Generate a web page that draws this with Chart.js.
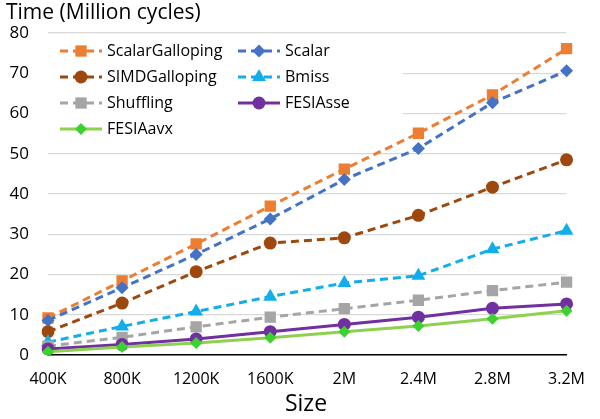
<!DOCTYPE html>
<html>
<head>
<meta charset="utf-8">
<script src="https://cdn.jsdelivr.net/npm/chart.js@4/dist/chart.umd.min.js"></script>
<style>
  html, body { margin: 0; padding: 0; background: #fff; }
  #wrap { width: 600px; height: 419px; }
</style>
</head>
<body>
<div id="wrap"><canvas id="chart" width="600" height="419"></canvas></div>
<script>
const sizes = ['400K', '800K', '1200K', '1600K', '2M', '2.4M', '2.8M', '3.2M'];
const yTicks = [0, 10, 20, 30, 40, 50, 60, 70, 80];

const scalarGalloping = [9.2, 18.4, 27.6, 37.0, 46.2, 55.1, 64.6, 76.1];
const scalar          = [8.6, 16.7, 25.0, 33.8, 43.6, 51.3, 62.7, 70.6];
const simdGalloping   = [5.8, 12.9, 20.7, 27.8, 29.1, 34.7, 41.7, 48.5];
const bmiss           = [3.2, 7.1, 10.8, 14.5, 17.9, 19.7, 26.3, 30.9];
const shuffling       = [2.2, 4.4, 7.0, 9.4, 11.5, 13.6, 16.0, 18.1];
const fesiaSse        = [1.5, 2.6, 4.0, 5.8, 7.6, 9.4, 11.6, 12.7];
const fesiaAvx        = [0.8, 2.0, 3.0, 4.3, 5.8, 7.2, 9.0, 11.0];

const FONT = '"Open Sans", "Noto Sans", sans-serif';

const series = [
  { label: 'ScalarGalloping', data: scalarGalloping, color: '#ED7D31', point: '#ED7D31', style: 'rect', r: 8, dash: [8, 5] },
  { label: 'Scalar', data: scalar, color: '#4472C4', point: '#4472C4', style: 'rectRot', r: 6.5, dash: [8, 5] },
  { label: 'SIMDGalloping', data: simdGalloping, color: '#9E480E', point: '#9E480E', style: 'circle', r: 6.5, dash: [8, 5] },
  { label: 'Bmiss', data: bmiss, color: '#12ADEB', point: '#12ADEB', style: 'triangle', r: 8, dash: [8, 5] },
  { label: 'Shuffling', data: shuffling, color: '#A5A5A5', point: '#A5A5A5', style: 'rect', r: 8, dash: [8, 5] },
  { label: 'FESIAsse', data: fesiaSse, color: '#7030A0', point: '#7030A0', style: 'circle', r: 6.5, dash: [] },
  { label: 'FESIAavx', data: fesiaAvx, color: '#8ED14F', point: '#3BD12F', style: 'rectRot', r: 6, dash: [] }
];

// legend in two columns inside the plot, white box over the grid
const legendPlugin = {
  id: 'boxLegend',
  beforeDatasetsDraw(chart) {
    const ctx = chart.ctx;
    ctx.save();
    ctx.fillStyle = '#fff';
    ctx.fillRect(chart.chartArea.left, 38, 355, 106);
    ctx.font = '16px ' + FONT;
    ctx.textBaseline = 'middle';
    series.forEach((s, i) => {
      const col = i % 2, row = Math.floor(i / 2);
      const x0 = col === 0 ? 60 : 238;
      const y = 51 + row * 26;
      ctx.strokeStyle = s.color;
      ctx.lineWidth = 3;
      ctx.setLineDash(s.dash);
      ctx.beginPath();
      ctx.moveTo(x0, y);
      ctx.lineTo(x0 + 42, y);
      ctx.stroke();
      ctx.setLineDash([]);
      ctx.fillStyle = s.point;
      Chart.helpers.drawPoint(ctx, { pointStyle: s.style, radius: s.r, rotation: 0, borderWidth: 0 }, x0 + 21, y);
      ctx.fillStyle = '#000';
      ctx.fillText(s.label, x0 + 47, y);
    });
    ctx.restore();
  }
};

const titlePlugin = {
  id: 'axisTitles',
  afterDraw(chart) {
    const ctx = chart.ctx;
    ctx.save();
    ctx.fillStyle = '#000';
    ctx.textBaseline = 'middle';
    ctx.font = '21px ' + FONT;
    ctx.textAlign = 'left';
    ctx.fillText('Time (Million cycles)', 6, 13);
    ctx.font = '23px ' + FONT;
    ctx.textAlign = 'center';
    ctx.fillText('Size', 306, 404);
    ctx.restore();
  }
};

new Chart(document.getElementById('chart'), {
  type: 'line',
  data: {
    labels: sizes,
    datasets: series.map((s, i) => ({
      label: s.label,
      data: s.data,
      borderColor: s.color,
      backgroundColor: s.point,
      borderWidth: 3,
      borderDash: s.dash,
      pointStyle: s.style,
      pointRadius: s.r,
      pointHoverRadius: s.r,
      pointBorderWidth: 0,
      pointBackgroundColor: s.point,
      tension: 0,
      order: series.length - i
    }))
  },
  options: {
    responsive: false,
    animation: false,
    layout: { padding: { top: 33, right: 22, left: 0, bottom: 0 } },
    plugins: { legend: { display: false }, tooltip: { enabled: false } },
    scales: {
      x: {
        offset: false,
        grid: { display: false, drawTicks: false },
        border: { display: true, color: '#000', width: 1.5 },
        ticks: { color: '#000', font: { family: FONT, size: 16 }, padding: 15, maxRotation: 0, autoSkip: false },
        afterFit(scale) { scale.height = 64; }
      },
      y: {
        min: 0,
        max: 80,
        afterBuildTicks(scale) { scale.ticks = yTicks.map(v => ({ value: v })); },
        grid: { color: '#D9D9D9', lineWidth: 1.2, drawTicks: false },
        border: { display: false },
        ticks: { color: '#000', font: { family: FONT, size: 17 }, padding: 19 },
        afterFit(scale) { scale.width = 48; }
      }
    }
  },
  plugins: [legendPlugin, titlePlugin]
});
</script>
</body>
</html>
